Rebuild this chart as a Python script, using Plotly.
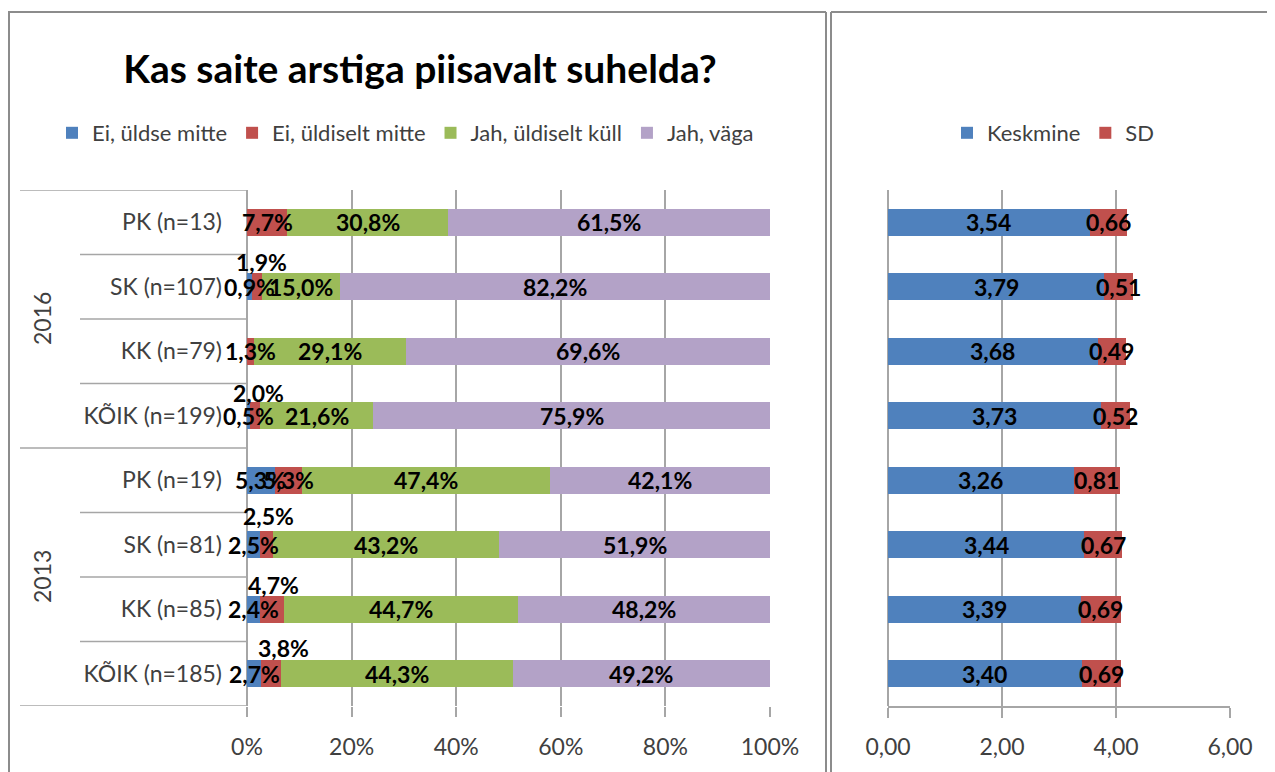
import plotly.graph_objects as go

# ---------------- data ----------------
categories = ["PK (n=13)", "SK (n=107)", "KK (n=79)", "KÕIK (n=199)",
              "PK (n=19)", "SK (n=81)", "KK (n=85)", "KÕIK (n=185)"]
years = ["2016", "2013"]
year_rows = [[0, 1, 2, 3], [4, 5, 6, 7]]

series_names = ["Ei, üldse mitte", "Ei, üldiselt mitte", "Jah, üldiselt küll", "Jah, väga"]
ei_yldse = [0.0, 0.9, 0.0, 0.5, 5.3, 2.5, 2.4, 2.7]
ei_yldiselt = [7.7, 1.9, 1.3, 2.0, 5.3, 2.5, 4.7, 3.8]
jah_yldiselt = [30.8, 15.0, 29.1, 21.6, 47.4, 43.2, 44.7, 44.3]
jah_vaga = [61.5, 82.2, 69.6, 75.9, 42.1, 51.9, 48.2, 49.2]

keskmine = [3.54, 3.79, 3.68, 3.73, 3.26, 3.44, 3.39, 3.40]
sd = [0.66, 0.51, 0.49, 0.52, 0.81, 0.67, 0.69, 0.69]

pct_ticks = [0, 20, 40, 60, 80, 100]
pct_ticklabels = ["0%", "20%", "40%", "60%", "80%", "100%"]
mean_ticks = [0, 2, 4, 6]
mean_ticklabels = ["0,00", "2,00", "4,00", "6,00"]

title = "Kas saite arstiga piisavalt suhelda?"

# ---------------- style ----------------
OFF = 8                      # default page body margin
W, H = 1275 - OFF, 772 - OFF
FONT = "Lato"
colors = ["#4F81BD", "#C0504D", "#9BBB59", "#B3A2C7"]
mean_colors = ["#4F81BD", "#C0504D"]
GRID = "#A6A6A6"
FRAME = "#8C8C8C"
TXT = "#404040"
LBL = 23

# labels manually raised above their bar in the original (row, series) -> (xshift, yshift)
raised = {(1, 1): (5, 25), (3, 1): (4, 23), (5, 1): (2, 29), (6, 1): (2, 24), (7, 1): (12, 26)}


def px(x):
    return (x - OFF) / W


def py(y):
    return 1 - (y - OFF) / H


fig = go.Figure()
pct_series = [ei_yldse, ei_yldiselt, jah_yldiselt, jah_vaga]
for name, vals, col in zip(series_names, pct_series, colors):
    fig.add_trace(go.Bar(y=categories, x=vals, name=name, orientation="h",
                         marker=dict(color=col, line=dict(width=0)),
                         xaxis="x", yaxis="y", legend="legend"))

for name, vals, col in zip(["Keskmine", "SD"], [keskmine, sd], mean_colors):
    fig.add_trace(go.Bar(y=categories, x=vals, name=name, orientation="h",
                         marker=dict(color=col, line=dict(width=0)),
                         xaxis="x2", yaxis="y2", legend="legend2"))

ann = []
# percentage labels
for i, cat in enumerate(categories):
    cum = 0.0
    for s, vals in enumerate(pct_series):
        v = vals[i]
        if v > 0:
            xs, ys = raised.get((i, s), (0, 0))
            ann.append(dict(x=cum + v / 2, y=cat, xref="x", yref="y",
                            text=f"{v:.1f}".replace(".", ",") + "%", showarrow=False,
                            xshift=xs, yshift=ys, xanchor="center", yanchor="middle",
                            font=dict(family=FONT, size=LBL, color="black", weight="bold")))
        cum += v
# mean labels
for i, cat in enumerate(categories):
    cum = 0.0
    for vals in [keskmine, sd]:
        v = vals[i]
        ann.append(dict(x=cum + v / 2, y=cat, xref="x2", yref="y2",
                        text=f"{v:.2f}".replace(".", ","), showarrow=False,
                        xanchor="center", yanchor="middle",
                        font=dict(family=FONT, size=LBL, color="black", weight="bold")))
        cum += v

# year labels
for yr, rows in zip(years, year_rows):
    mid = (rows[0] + rows[-1]) / 2
    ann.append(dict(x=px(42), y=mid, xref="paper", yref="y", text=yr, textangle=-90,
                    xanchor="center", yanchor="middle",
                    showarrow=False, font=dict(family=FONT, size=23, color=TXT)))

shapes = []
# category separators
n = len(categories)
for k in range(n + 1):
    outer = k in (0, n) or k == len(year_rows[0])
    shapes.append(dict(type="line", xref="paper", yref="y",
                       x0=px(20) if outer else px(80), x1=px(247.5),
                       y0=k - 0.5, y1=k - 0.5, line=dict(color=GRID, width=1.5)))
# frames
shapes.append(dict(type="line", xref="paper", yref="paper", x0=px(8), x1=px(826),
                   y0=py(12), y1=py(12), line=dict(color=FRAME, width=2)))
shapes.append(dict(type="line", xref="paper", yref="paper", x0=px(9), x1=px(9),
                   y0=py(12), y1=-0.05, line=dict(color=FRAME, width=2)))
shapes.append(dict(type="line", xref="paper", yref="paper", x0=px(826), x1=px(826),
                   y0=py(12), y1=-0.05, line=dict(color=FRAME, width=2)))
shapes.append(dict(type="line", xref="paper", yref="paper", x0=px(831), x1=px(831),
                   y0=py(12), y1=-0.05, line=dict(color=FRAME, width=2)))
shapes.append(dict(type="line", xref="paper", yref="paper", x0=px(831), x1=1.05,
                   y0=py(12), y1=py(12), line=dict(color=FRAME, width=2)))

ydom = [py(706), py(190)]
yrange = [n - 0.5, -0.5]
axfont = dict(family=FONT, size=23, color=TXT)
fig.update_layout(
    width=W, height=H, margin=dict(l=0, r=0, t=0, b=0, autoexpand=False),
    paper_bgcolor="white", plot_bgcolor="white",
    barmode="stack", bargap=0.58,
    title=dict(text=f"<b>{title}</b>", x=px(420), xanchor="center", y=py(69), yanchor="middle",
               font=dict(family=FONT, size=39, color="black")),
    xaxis=dict(domain=[px(247), px(770)], range=[0, 100], tickvals=pct_ticks, ticktext=pct_ticklabels,
               showgrid=True, gridcolor=GRID, gridwidth=1.5, zeroline=True, zerolinecolor=GRID,
               zerolinewidth=1.5, ticks="outside", ticklen=10, tickcolor=GRID, tickwidth=1.5,
               showline=False, tickfont=axfont, ticklabelstandoff=10, anchor="y", automargin=False),
    yaxis=dict(domain=ydom, type="category", categoryorder="array", categoryarray=categories,
               range=yrange, autorange=False, showgrid=False, ticks="", tickfont=axfont,
               ticklabelstandoff=24, showline=False, anchor="x", automargin=False),
    xaxis2=dict(domain=[px(888), px(1230)], range=[0, 6], tickvals=mean_ticks, ticktext=mean_ticklabels,
                showgrid=True, gridcolor=GRID, gridwidth=1.5, zeroline=True, zerolinecolor=GRID,
                zerolinewidth=1.5, ticks="outside", ticklen=10, tickcolor=GRID, tickwidth=1.5,
                showline=True, linecolor=GRID, linewidth=1.5, tickfont=axfont,
                ticklabelstandoff=10, anchor="y2", automargin=False),
    yaxis2=dict(domain=ydom, type="category", categoryorder="array", categoryarray=categories,
                range=yrange, autorange=False, showgrid=False, showticklabels=False, ticks="",
                showline=False, anchor="x2", automargin=False),
    legend=dict(orientation="h", x=px(52), y=py(133), xanchor="left", yanchor="middle",
                font=dict(family=FONT, size=22, color=TXT), itemwidth=30,
                traceorder="normal", bgcolor="rgba(0,0,0,0)"),
    legend2=dict(orientation="h", x=px(947), y=py(133), xanchor="left", yanchor="middle",
                 font=dict(family=FONT, size=22, color=TXT), itemwidth=30,
                 traceorder="normal", bgcolor="rgba(0,0,0,0)"),
    annotations=ann, shapes=shapes, showlegend=True,
)

fig.write_html("out.html")
